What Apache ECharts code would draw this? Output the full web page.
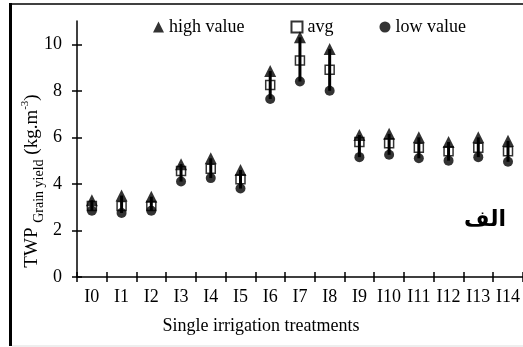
<!DOCTYPE html>
<html>
<head>
    <meta charset="utf-8" />
    <title>TWP grain yield</title>
    <script src="https://cdn.jsdelivr.net/npm/echarts@6/dist/echarts.min.js"></script>
    <style>
        html, body { margin: 0; padding: 0; background: #ffffff; }
        #main { width: 523px; height: 347px; }
    </style>
</head>
<body>
<div id="main"></div>
<script type="text/javascript">
    // 数据
    var categories = ['I0', 'I1', 'I2', 'I3', 'I4', 'I5', 'I6', 'I7', 'I8', 'I9', 'I10', 'I11', 'I12', 'I13', 'I14'];
    var highValues = [3.3, 3.5, 3.45, 4.85, 5.1, 4.6, 8.85, 10.3, 9.8, 6.1, 6.15, 6.0, 5.8, 6.0, 5.85];
    var avgValues  = [3.05, 3.05, 3.05, 4.55, 4.65, 4.2, 8.25, 9.3, 8.9, 5.8, 5.75, 5.55, 5.4, 5.55, 5.4];
    var lowValues  = [2.85, 2.75, 2.85, 4.1, 4.25, 3.8, 7.65, 8.4, 8.0, 5.15, 5.25, 5.1, 5.0, 5.15, 4.95];
    var yTicks = [0, 2, 4, 6, 8, 10];

    var serif = 'Liberation Serif';
    var myChart = echarts.init(document.getElementById('main'));

    var rangeData = categories.map(function (c, i) {
        return [i, highValues[i], lowValues[i]];
    });

    var option = {
        backgroundColor: '#ffffff',
        animation: false,
        grid: { left: 77, right: 0, top: 21, bottom: 70 },
        legend: {
            left: 148,
            top: 13,
            itemGap: 46,
            itemWidth: 11,
            itemHeight: 11,
            textStyle: { fontFamily: serif, fontSize: 18, color: '#000' },
            data: ['high value', 'avg', 'low value']
        },
        xAxis: [
            {
                type: 'category',
                data: categories,
                boundaryGap: true,
                axisLine: { lineStyle: { color: '#000', width: 1.5 } },
                axisTick: { show: true, length: 5, interval: 0, lineStyle: { color: '#000', width: 1.5 } },
                axisLabel: { interval: 0, margin: 11, fontFamily: serif, fontSize: 18, color: '#000' },
                splitLine: { show: false },
                name: 'Single irrigation treatments',
                nameLocation: 'middle',
                nameGap: 40,
                nameTextStyle: { fontFamily: serif, fontSize: 18, color: '#000', padding: [0, 78, 0, 0] }
            },
            {
                type: 'category',
                data: categories,
                position: 'bottom',
                boundaryGap: true,
                axisLine: { show: false },
                axisTick: { show: true, inside: true, length: 5, interval: 0, lineStyle: { color: '#000', width: 1.5 } },
                axisLabel: { show: false },
                splitLine: { show: false }
            }
        ],
        yAxis: [
            {
                type: 'value',
                min: 0,
                max: 11,
                axisLine: { show: true, lineStyle: { color: '#000', width: 1.5 } },
                axisTick: { show: true, length: 5, customValues: yTicks, lineStyle: { color: '#000', width: 1.5 } },
                axisLabel: { margin: 15, customValues: yTicks, fontFamily: serif, fontSize: 18, color: '#000' },
                splitLine: { show: false }
            },
            {
                type: 'value',
                position: 'left',
                min: 0,
                max: 11,
                axisLine: { show: false },
                axisTick: { show: true, inside: true, length: 5, customValues: yTicks, lineStyle: { color: '#000', width: 1.5 } },
                axisLabel: { show: false },
                splitLine: { show: false }
            }
        ],
        series: [
            {
                name: 'range',
                type: 'custom',
                xAxisIndex: 0,
                yAxisIndex: 0,
                encode: { x: 0, y: [1, 2] },
                data: rangeData,
                z: 1,
                renderItem: function (params, api) {
                    var top = api.coord([api.value(0), api.value(1)]);
                    var bot = api.coord([api.value(0), api.value(2)]);
                    return {
                        type: 'line',
                        shape: { x1: top[0], y1: top[1], x2: bot[0], y2: bot[1] },
                        style: { stroke: '#000', lineWidth: 3 }
                    };
                }
            },
            {
                name: 'high value',
                type: 'scatter',
                symbol: 'triangle',
                symbolSize: 12,
                itemStyle: { color: '#000' },
                data: highValues,
                z: 3
            },
            {
                name: 'avg',
                type: 'scatter',
                symbol: 'rect',
                symbolSize: 9,
                itemStyle: { color: 'rgba(255,255,255,0)', borderColor: '#000', borderWidth: 1.5 },
                data: avgValues,
                z: 4
            },
            {
                name: 'low value',
                type: 'scatter',
                symbol: 'circle',
                symbolSize: 10,
                itemStyle: { color: '#000' },
                data: lowValues,
                z: 3
            }
        ],
        graphic: [
            // 边框
            { type: 'line', shape: { x1: 10.5, y1: 3, x2: 10.5, y2: 346 }, style: { stroke: '#000', lineWidth: 3 } },
            { type: 'line', shape: { x1: 9, y1: 4, x2: 523, y2: 4 }, style: { stroke: '#000', lineWidth: 1.7 } },
            { type: 'line', shape: { x1: 12, y1: 346, x2: 523, y2: 346 }, style: { stroke: '#dddddd', lineWidth: 1 } },
            // 纵轴标题
            {
                type: 'text',
                x: 31,
                y: 181,
                rotation: Math.PI / 2,
                style: {
                    text: '{a|TWP }{b|Grain yield}{a| (kg.m}{c|-3}{a|)}',
                    align: 'center',
                    verticalAlign: 'middle',
                    fill: '#000',
                    rich: {
                        a: { fontFamily: serif, fontSize: 19, lineHeight: 22, fill: '#000', verticalAlign: 'bottom' },
                        b: { fontFamily: serif, fontSize: 14, lineHeight: 14, fill: '#000', verticalAlign: 'bottom', padding: [0, 0, -4, 0] },
                        c: { fontFamily: serif, fontSize: 11, lineHeight: 11, fill: '#000', verticalAlign: 'top' }
                    }
                }
            },
            {
                type: 'text',
                x: 485,
                y: 220,
                style: {
                    text: 'الف',
                    align: 'center',
                    verticalAlign: 'middle',
                    fontFamily: 'DejaVu Sans',
                    fontWeight: 'bold',
                    fontSize: 22,
                    fill: '#000'
                }
            }
        ]
    };
    myChart.setOption(option);
</script>
</body>
</html>
